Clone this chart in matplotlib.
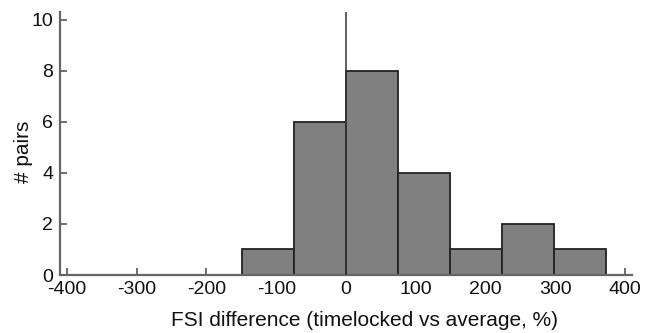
"""
Histogram of FSI difference (timelocked vs average) across pairs.
"""

import matplotlib
matplotlib.use("Agg")
import matplotlib.pyplot as plt

# bin edges (%) and number of pairs in each bin
bin_edges = [-149, -74.5, 0, 74.5, 149, 223.5, 298, 372.5]
counts = [1, 6, 8, 4, 1, 2, 1]

x_ticks = [-400, -300, -200, -100, 0, 100, 200, 300, 400]
y_ticks = [0, 2, 4, 6, 8, 10]

plt.rcParams["font.family"] = ["Liberation Sans", "DejaVu Sans"]
plt.rcParams["axes.unicode_minus"] = False

fig = plt.figure(figsize=(6.58, 3.33), dpi=100)
ax = fig.add_axes([60 / 658, 1 - 275 / 333, 572 / 658, 263 / 333])

lefts = bin_edges[:-1]
widths = [b - a for a, b in zip(bin_edges[:-1], bin_edges[1:])]
ax.bar(lefts, counts, width=widths, align="edge", color="#808080",
       edgecolor="#222222", linewidth=1.3, zorder=2)

# zero reference line
ax.axvline(0, color="#333333", linewidth=1.1, zorder=3)

ax.set_xlim(-410, 410)
ax.set_ylim(0, 10.3)
ax.set_xticks(x_ticks)
ax.set_yticks(y_ticks)
ax.tick_params(direction="in", length=5, width=1.2, colors="#555555",
               labelcolor="#111111", labelsize=14)
ax.tick_params(axis="x", pad=4)
ax.tick_params(axis="y", pad=5)

for side in ["top", "right"]:
    ax.spines[side].set_visible(False)
for side in ["left", "bottom"]:
    ax.spines[side].set_color("#666666")
    ax.spines[side].set_linewidth(1.6)

ax.set_xlabel("FSI difference (timelocked vs average, %)", fontsize=15,
              color="#111111")
ax.set_ylabel("# pairs", fontsize=15, color="#111111")
ax.xaxis.set_label_coords(0.533, -0.138)
ax.yaxis.set_label_coords(-0.048, 0.47)

fig.savefig("out.png", dpi=100)
